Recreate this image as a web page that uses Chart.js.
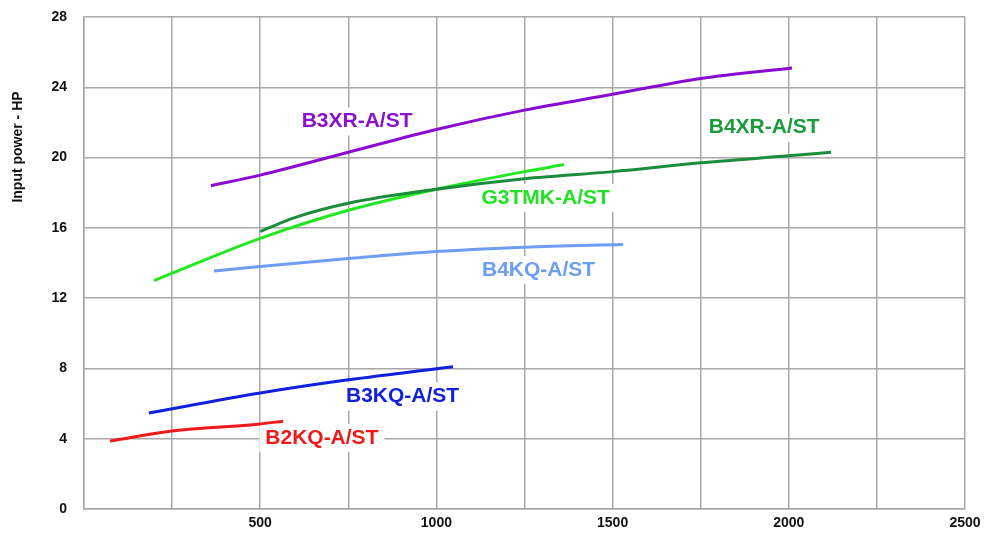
<!DOCTYPE html>
<html>
<head>
<meta charset="utf-8">
<script src="https://cdn.jsdelivr.net/npm/chart.js@4.4.0/dist/chart.umd.min.js"></script>
<style>
  html, body { margin: 0; padding: 0; background: #fff; }
  #wrap { width: 998px; height: 534px; }
</style>
</head>
<body>
<div id="wrap"><canvas id="powerChart" width="998" height="534"></canvas></div>
<script>
// flow (x) vs input power (HP)
const b3xrX = [360, 500, 750, 1000, 1250, 1500, 1750, 2009];
const b3xrY = [18.4, 19.0, 20.3, 21.6, 22.7, 23.6, 24.5, 25.1];

const b4xrX = [500, 600, 750, 1000, 1250, 1500, 1750, 2000, 2120];
const b4xrY = [15.8, 16.6, 17.4, 18.2, 18.8, 19.2, 19.7, 20.1, 20.3];

const g3tmkX = [199, 500, 750, 1000, 1250, 1362];
const g3tmkY = [13.0, 15.4, 17.0, 18.2, 19.2, 19.6];

const b4kqX = [369, 500, 750, 1000, 1250, 1530];
const b4kqY = [13.55, 13.8, 14.25, 14.65, 14.9, 15.05];

const b3kqX = [184, 500, 750, 1047];
const b3kqY = [5.46, 6.6, 7.35, 8.1];

const b2kqX = [74, 250, 500, 565];
const b2kqY = [3.87, 4.44, 4.84, 5.0];

const xTicks = [500, 1000, 1500, 2000, 2500];
const yTicks = [0, 4, 8, 12, 16, 20, 24, 28];

const seriesNames = ['B3XR-A/ST', 'B4XR-A/ST', 'G3TMK-A/ST', 'B4KQ-A/ST', 'B3KQ-A/ST', 'B2KQ-A/ST'];
const seriesColors = ['#8a0ad0', '#1a8c3c', '#22e822', '#6c9ef2', '#1020dc', '#ee1a1a'];
const labelColors = ['#8a10d0', '#1a9a3a', '#22e022', '#6c9ef2', '#1020dc', '#ee1a1a'];
// label anchor in data units (centre of text)
const labelX = [775, 1930, 1310, 1290, 904, 675];
const labelY = [22.05, 21.7, 17.7, 13.6, 6.4, 4.05];

const seriesX = [b3xrX, b4xrX, g3tmkX, b4kqX, b3kqX, b2kqX];
const seriesY = [b3xrY, b4xrY, g3tmkY, b4kqY, b3kqY, b2kqY];

const datasets = seriesNames.map((name, i) => ({
    label: name,
    data: seriesX[i].map((x, j) => ({ x: x, y: seriesY[i][j] })),
    borderColor: seriesColors[i],
    borderWidth: 3,
    pointRadius: 0,
    cubicInterpolationMode: 'monotone',
    fill: false,
}));

const seriesLabels = {
    id: 'seriesLabels',
    beforeDatasetsDraw(chart) {
        const ctx = chart.ctx;
        const xs = chart.scales.x, ys = chart.scales.y;
        ctx.save();
        ctx.font = 'bold 21px "Liberation Sans", Arial, sans-serif';
        ctx.textAlign = 'center';
        ctx.textBaseline = 'middle';
        seriesNames.forEach((name, i) => {
            const px = xs.getPixelForValue(labelX[i]);
            const py = ys.getPixelForValue(labelY[i]);
            const w = ctx.measureText(name).width;
            ctx.fillStyle = '#fff';
            ctx.fillRect(px - w / 2 - 6, py - 14, w + 12, 28);
            ctx.fillStyle = labelColors[i];
            ctx.fillText(name, px, py);
        });
        ctx.restore();
    },
    afterDraw(chart) {
        const ctx = chart.ctx;
        ctx.save();
        ctx.translate(18, 147);
        ctx.rotate(-Math.PI / 2);
        ctx.textAlign = 'center';
        ctx.textBaseline = 'middle';
        ctx.font = 'bold 14px "Liberation Sans", Arial, sans-serif';
        ctx.fillStyle = '#111';
        ctx.fillText('Input power - HP', 0, 0);
        ctx.restore();
    }
};

const config = {
    type: 'line',
    data: { datasets: datasets },
    options: {
        responsive: false,
        animation: false,
        layout: { padding: { left: 0, top: 17, right: 33, bottom: 0 } },
        plugins: {
            legend: { display: false },
            tooltip: { enabled: false },
        },
        scales: {
            x: {
                type: 'linear',
                min: 0,
                max: 2500,
                afterFit(axis) { axis.height = 25; },
                ticks: {
                    stepSize: 250,
                    autoSkip: false,
                    maxRotation: 0,
                    padding: 6,
                    color: '#111',
                    font: { family: '"Liberation Sans", Arial, sans-serif', weight: 'bold', size: 14 },
                    callback: (v) => xTicks.includes(v) ? String(v) : '',
                },
                grid: { color: '#a8a8a8', lineWidth: 1.5, drawTicks: false },
                border: { color: '#a8a8a8', width: 1.5 },
            },
            y: {
                min: 0,
                max: 28,
                afterFit(axis) {
                    axis.width = 84;
                    axis.paddingTop = 0;
                    axis.paddingBottom = 0;
                },
                ticks: {
                    stepSize: 4,
                    padding: 17,
                    color: '#111',
                    font: { family: '"Liberation Sans", Arial, sans-serif', weight: 'bold', size: 14 },
                    callback: (v) => yTicks.includes(v) ? String(v) : '',
                },
                grid: { color: '#a8a8a8', lineWidth: 1.5, drawTicks: false },
                border: { color: '#a8a8a8', width: 1.5 },
            },
        },
    },
    plugins: [seriesLabels],
};

const powerChart = new Chart(document.getElementById('powerChart'), config);
</script>
</body>
</html>
